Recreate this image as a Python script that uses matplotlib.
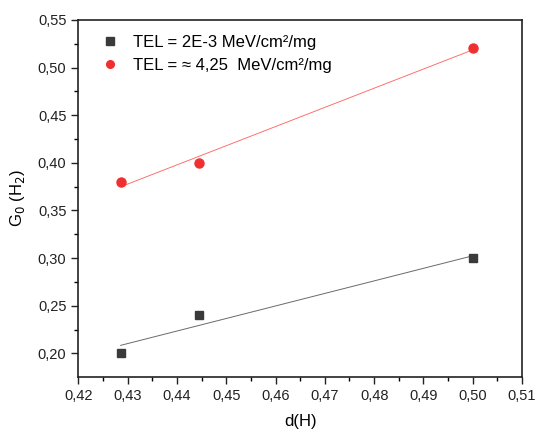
import numpy as np
import matplotlib.pyplot as plt
from matplotlib.ticker import MultipleLocator, FuncFormatter

plt.rcParams['font.family'] = ['Liberation Sans', 'DejaVu Sans']

# Daten
d_H = [0.4286, 0.4444, 0.5]
g0_tel_niedrig = [0.20, 0.24, 0.30]
g0_tel_hoch = [0.38, 0.40, 0.52]
label_niedrig = 'TEL = 2E-3 MeV/cm²/mg'
label_hoch = 'TEL = ≈ 4,25  MeV/cm²/mg'

fig = plt.figure(figsize=(5.36, 4.32), dpi=100)
ax = fig.add_axes([0.146, 0.128, 0.828, 0.826])

# Punkte
ax.plot(d_H, g0_tel_niedrig, 's', color='#3a3a3a', markersize=6, label=label_niedrig, zorder=3)
ax.plot(d_H, g0_tel_hoch, 'o', color='#f03030', markersize=6.5, label=label_hoch, zorder=3)

# lineare Fits
x_fit = np.array([min(d_H), max(d_H)])
for y, farbe in [(g0_tel_niedrig, '#6a6a6a'), (g0_tel_hoch, '#ff7070')]:
    a, b = np.polyfit(d_H, y, 1)
    ax.plot(x_fit, a * x_fit + b, '-', color=farbe, lw=0.7, zorder=2)

ax.set_xlim(0.42, 0.51)
ax.set_ylim(0.1755, 0.55)
ax.xaxis.set_major_locator(MultipleLocator(0.01))
ax.xaxis.set_minor_locator(MultipleLocator(0.005))
ax.yaxis.set_major_locator(MultipleLocator(0.05))
ax.yaxis.set_minor_locator(MultipleLocator(0.025))
komma = FuncFormatter(lambda v, p: f'{v:.2f}'.replace('.', ','))
ax.xaxis.set_major_formatter(komma)
ax.yaxis.set_major_formatter(komma)
ax.tick_params(which='major', direction='out', length=5, width=1, labelsize=10.5, colors='#222222')
ax.tick_params(which='minor', direction='out', length=3, width=1)
for s in ax.spines.values():
    s.set_linewidth(1.2)
    s.set_color('#222222')

ax.set_xlabel('d(H)', fontsize=12, labelpad=8)
ax.set_ylabel('G$_0$ (H$_2$)', fontsize=12, labelpad=8)

ax.legend(loc='upper left', frameon=False, fontsize=12, handletextpad=0.4,
          borderaxespad=0.5, labelspacing=0.5, markerscale=0.85)

plt.savefig('out.png', dpi=100)
